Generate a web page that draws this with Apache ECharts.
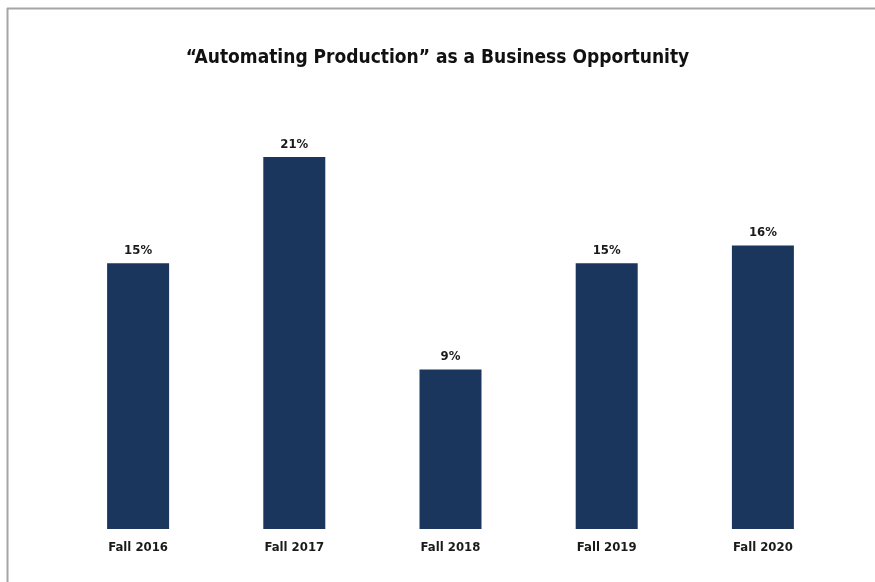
<!DOCTYPE html>
<html>
<head>
<meta charset="utf-8">
<script src="https://cdn.jsdelivr.net/npm/echarts@6/dist/echarts.min.js"></script>
<style>
  html, body { margin: 0; padding: 0; background: #fff; }
  #chart { width: 875px; height: 582px; }
</style>
</head>
<body>
<div id="chart"></div>
<script>
var categories = ['Fall 2016', 'Fall 2017', 'Fall 2018', 'Fall 2019', 'Fall 2020'];
var values = [15, 21, 9, 15, 16];

var myChart = echarts.init(document.getElementById('chart'));

var option = {
    backgroundColor: '#ffffff',
    title: {
        text: '\u201CAutomating Production\u201D as a Business Opportunity',
        left: 'center',
        top: 44,
        textStyle: {
            fontFamily: 'DejaVu Sans Condensed',
            fontWeight: 'bold',
            fontSize: 19,
            color: '#111'
        }
    },
    graphic: [
        { type: 'line', shape: { x1: 7, y1: 8.5, x2: 875, y2: 8.5 }, style: { stroke: '#a5a5a5', lineWidth: 2 } },
        { type: 'line', shape: { x1: 7.5, y1: 8, x2: 7.5, y2: 582 }, style: { stroke: '#a5a5a5', lineWidth: 2 } }
    ],
    grid: {
        left: 60,
        right: 34,
        top: 86,
        bottom: 53
    },
    xAxis: {
        type: 'category',
        data: categories,
        axisLine: { show: false },
        axisTick: { show: false },
        axisLabel: {
            margin: 12,
            fontFamily: 'DejaVu Sans Condensed',
            fontWeight: 'bold',
            fontSize: 13,
            color: '#1a1a1a'
        }
    },
    yAxis: {
        type: 'value',
        min: 0,
        max: 25,
        show: false
    },
    series: [{
        type: 'bar',
        data: values,
        barWidth: 62,
        itemStyle: { color: '#1b365d' },
        label: {
            show: true,
            position: 'top',
            distance: 6,
            formatter: '{c}%',
            fontFamily: 'DejaVu Sans Condensed',
            fontWeight: 'bold',
            fontSize: 13,
            color: '#1a1a1a'
        }
    }]
};

myChart.setOption(option);
</script>
</body>
</html>
